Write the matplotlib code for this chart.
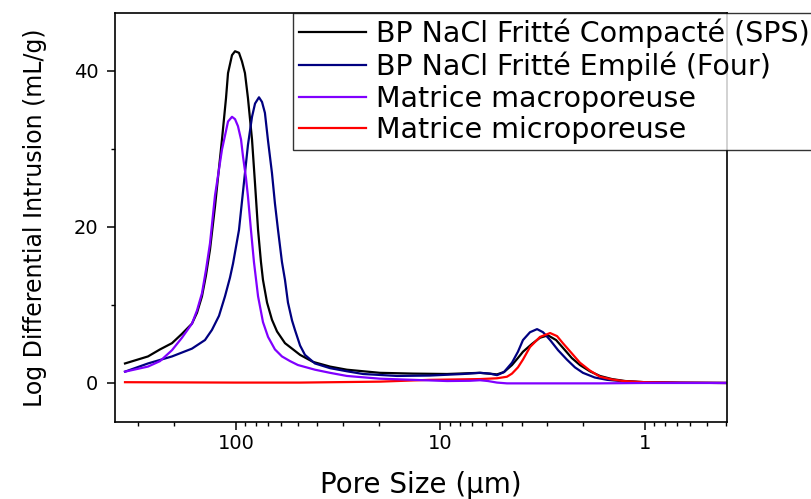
import matplotlib
matplotlib.use("Agg")
import matplotlib.pyplot as plt
from matplotlib.ticker import FixedLocator, FuncFormatter, LogLocator, MultipleLocator, NullFormatter

# pore size (um) / log differential intrusion (mL/g)
sps_size = [349, 269.4, 235.3, 205.6, 183.7, 164.2, 155.1, 146.7, 140.2, 134.0, 126.7, 117.1, 111.9,
            109.4, 104.6, 101.1, 96.7, 93.5, 90.4, 87.4, 83.5, 80.7, 78.0, 75.5, 73.8, 70.5, 66.7,
            63.0, 57.6, 52.6, 48.6, 42.0, 34.7, 28.7, 19.8, 13.6, 9.29, 6.41, 5.29, 4.89, 4.47,
            4.18, 3.95, 3.57, 3.26, 2.98, 2.72, 2.46, 2.28, 2.08, 1.86, 1.66, 1.45, 1.25, 1.0,
            0.674, 0.397]
sps_val = [2.5, 3.4, 4.3, 5.1, 6.3, 7.6, 9.0, 11.1, 13.8, 17.1, 22.6, 31.2, 36.5,
           39.7, 42.0, 42.5, 42.3, 41.2, 39.7, 36.5, 31.2, 25.5, 19.6, 15.5, 13.2, 10.3, 8.1,
           6.6, 5.1, 4.3, 3.6, 2.7, 2.1, 1.7, 1.3, 1.2, 1.15, 1.3, 1.1, 1.4, 2.3,
           3.2, 4.0, 5.0, 5.8, 6.1, 5.5, 4.2, 3.2, 2.3, 1.5, 0.9, 0.5, 0.25, 0.1,
           0.03, 0.0]

four_size = [349, 269.4, 205.6, 164.2, 141.8, 131.1, 121.1, 113.2, 107.0, 103.4, 96.7, 90.4, 87.4,
             83.5, 80.7, 77.2, 74.6, 72.2, 69.7, 66.7, 64.5, 62.3, 59.6, 57.6, 55.7, 53.2, 51.5,
             48.6, 46.0, 41.1, 34.7, 28.7, 23.9, 16.3, 11.3, 7.76, 6.41, 5.73, 5.29, 4.89, 4.47,
             4.18, 3.95, 3.65, 3.37, 3.15, 2.91, 2.66, 2.41, 2.20, 2.01, 1.76, 1.53, 1.25, 1.06,
             0.674, 0.397]
four_val = [1.45, 2.5, 3.4, 4.4, 5.5, 6.8, 8.6, 11.1, 13.5, 15.3, 19.6, 26.9, 30.5,
            34.1, 35.8, 36.6, 36.0, 34.6, 31.0, 26.9, 23.0, 19.6, 15.5, 13.2, 10.3, 8.0, 6.8,
            4.8, 3.6, 2.5, 1.9, 1.5, 1.15, 0.9, 0.95, 1.15, 1.3, 1.2, 1.0, 1.4, 2.6,
            4.0, 5.5, 6.5, 6.9, 6.5, 5.5, 4.2, 3.0, 2.0, 1.3, 0.7, 0.4, 0.2, 0.1,
            0.03, 0.0]

macro_size = [349, 269.4, 235.3, 205.6, 183.7, 164.2, 155.1, 146.7, 140.2, 134.0, 126.7, 117.1, 111.9,
              109.4, 104.6, 101.1, 97.8, 94.5, 92.4, 89.4, 87.4, 84.5, 81.7, 78.0, 73.8, 69.7, 64.5,
              59.6, 54.4, 49.8, 41.1, 34.7, 28.7, 19.8, 13.6, 9.29, 7.17, 6.41, 5.86, 5.29, 4.73,
              2.91, 1.66, 1.0, 0.397]
macro_val = [1.45, 2.1, 2.8, 4.2, 5.8, 7.6, 9.3, 11.5, 14.5, 17.9, 24.0, 29.9, 32.3,
             33.5, 34.1, 33.8, 32.9, 31.2, 29.0, 26.3, 23.9, 19.6, 15.5, 11.1, 7.8, 5.9, 4.3,
             3.4, 2.8, 2.3, 1.7, 1.3, 0.9, 0.55, 0.4, 0.25, 0.28, 0.35, 0.25, 0.05, -0.05,
             -0.05, -0.05, 0.0, 0.0]

micro_size = [349, 101.1, 48.6, 19.8, 11.3, 6.41, 5.29, 4.73, 4.47, 4.18, 3.95, 3.65, 3.26, 2.91,
              2.69, 2.52, 2.28, 2.08, 1.86, 1.66, 1.45, 1.28, 1.0, 0.674, 0.397]
micro_val = [0.1, 0.05, 0.05, 0.17, 0.4, 0.5, 0.6, 0.8, 1.2, 2.0, 3.0, 4.6, 5.9, 6.4,
             6.0, 5.1, 3.8, 2.6, 1.6, 0.8, 0.45, 0.25, 0.1, 0.03, 0.0]

labels = ["BP NaCl Fritté Compacté (SPS)", "BP NaCl Fritté Empilé (Four)",
          "Matrice macroporeuse", "Matrice microporeuse"]

fig = plt.figure(figsize=(8.11, 4.99), dpi=100)
ax = fig.add_axes([115 / 811, 1 - 422 / 499, 612 / 811, 409 / 499])

ax.plot(sps_size, sps_val, color="black", lw=1.6, zorder=2, label=labels[0])
ax.plot(four_size, four_val, color="#000080", lw=1.6, zorder=2.1, label=labels[1])
ax.plot(macro_size, macro_val, color="#8000FF", lw=1.6, zorder=2.3, label=labels[2])
ax.plot(micro_size, micro_val, color="#FF0000", lw=1.6, zorder=2.2, label=labels[3])

ax.set_xscale("log")
ax.set_xlim(390.6, 0.397)
ax.set_ylim(-5.0, 47.4)

ax.xaxis.set_major_locator(FixedLocator([100, 10, 1]))
ax.xaxis.set_major_formatter(FuncFormatter(lambda v, p: "%g" % v))
ax.xaxis.set_minor_locator(LogLocator(base=10, subs=range(2, 10)))
ax.xaxis.set_minor_formatter(NullFormatter())
ax.yaxis.set_major_locator(MultipleLocator(20))
ax.yaxis.set_minor_locator(MultipleLocator(10))

ax.tick_params(which="major", direction="out", length=5.5, width=1.1, labelsize=14, pad=3)
ax.tick_params(axis="y", which="major", pad=6.5)
ax.tick_params(which="minor", direction="out", length=2.8, width=1.0)
for s in ax.spines.values():
    s.set_linewidth(1.2)

ax.set_xlabel("Pore Size (µm)", fontsize=20, labelpad=13)
ax.set_ylabel("Log Differential Intrusion (mL/g)", fontsize=17, labelpad=19)

leg = fig.legend(loc="upper left", bbox_to_anchor=(293 / 811, 1 - 13 / 499),
                 bbox_transform=fig.transFigure, fontsize=20.5, frameon=True, fancybox=False,
                 borderaxespad=0, borderpad=0.2, handlelength=2.35, handletextpad=0.35,
                 labelspacing=0.12)
leg.get_frame().set_edgecolor("black")
leg.get_frame().set_linewidth(1.0)

fig.savefig("out.png", dpi=100)
